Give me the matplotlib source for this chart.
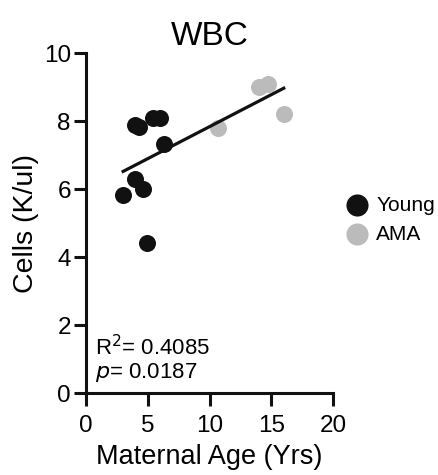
import numpy as np
import matplotlib.pyplot as plt

plt.rcParams['font.family'] = ['Liberation Sans', 'DejaVu Sans']

# varsta materna (ani) si WBC (K/ul)
young_age = [3.0, 4.0, 4.6, 4.0, 4.3, 5.4, 6.0, 6.3, 4.9]
young_wbc = [5.82, 6.3, 6.0, 7.9, 7.82, 8.1, 8.1, 7.32, 4.41]
ama_age = [10.7, 14.0, 14.7, 16.0]
ama_wbc = [7.8, 9.0, 9.1, 8.2]

r2_text = "R$^2$= 0.4085"
p_text = "$\\it{p}$= 0.0187"

x_all = np.array(young_age + ama_age)
y_all = np.array(young_wbc + ama_wbc)
panta, interceptie = np.polyfit(x_all, y_all, 1)
x_fit = np.array([x_all.min(), x_all.max()])

fig = plt.figure(figsize=(4.39, 4.75), dpi=100)
ax = fig.add_axes([0.196, 0.1726, 0.563, 0.7154])

ax.plot(x_fit, panta * x_fit + interceptie, color='#111111', lw=2.3, zorder=3)
ax.scatter(young_age, young_wbc, s=150, color='#111111', label='Young', zorder=2, linewidths=0)
ax.scatter(ama_age, ama_wbc, s=150, color='#bbbbbb', label='AMA', zorder=2, linewidths=0)

ax.set_xlim(0, 20)
ax.set_ylim(0, 10)
ax.set_xticks([0, 5, 10, 15, 20])
ax.set_yticks([0, 2, 4, 6, 8, 10])
for s in ['top', 'right']:
    ax.spines[s].set_visible(False)
for s in ['left', 'bottom']:
    ax.spines[s].set_linewidth(2.2)
    ax.spines[s].set_color('#111111')
ax.tick_params(width=2.2, length=9, labelsize=17.5, color='#111111')
ax.tick_params(axis='x', pad=7)
ax.tick_params(axis='y', pad=2)
for sp in ax.spines.values():
    sp.set_clip_on(False)

ax.set_xlabel("Maternal Age (Yrs)", fontsize=19.5, labelpad=5)
ax.set_ylabel("Cells (K/ul)", fontsize=20.5, labelpad=3)
ax.set_title("WBC", fontsize=24, pad=6)

ax.text(0.7, 1.35, r2_text, fontsize=16, va='center', ha='left')
ax.text(0.7, 0.6, p_text, fontsize=16, va='center', ha='left')

ax.legend(loc='center left', bbox_to_anchor=(0.98, 0.51), frameon=False,
          fontsize=15, handletextpad=-0.1, labelspacing=0.5, borderaxespad=0,
          markerscale=1.3)

fig.savefig("out.png", dpi=100)
